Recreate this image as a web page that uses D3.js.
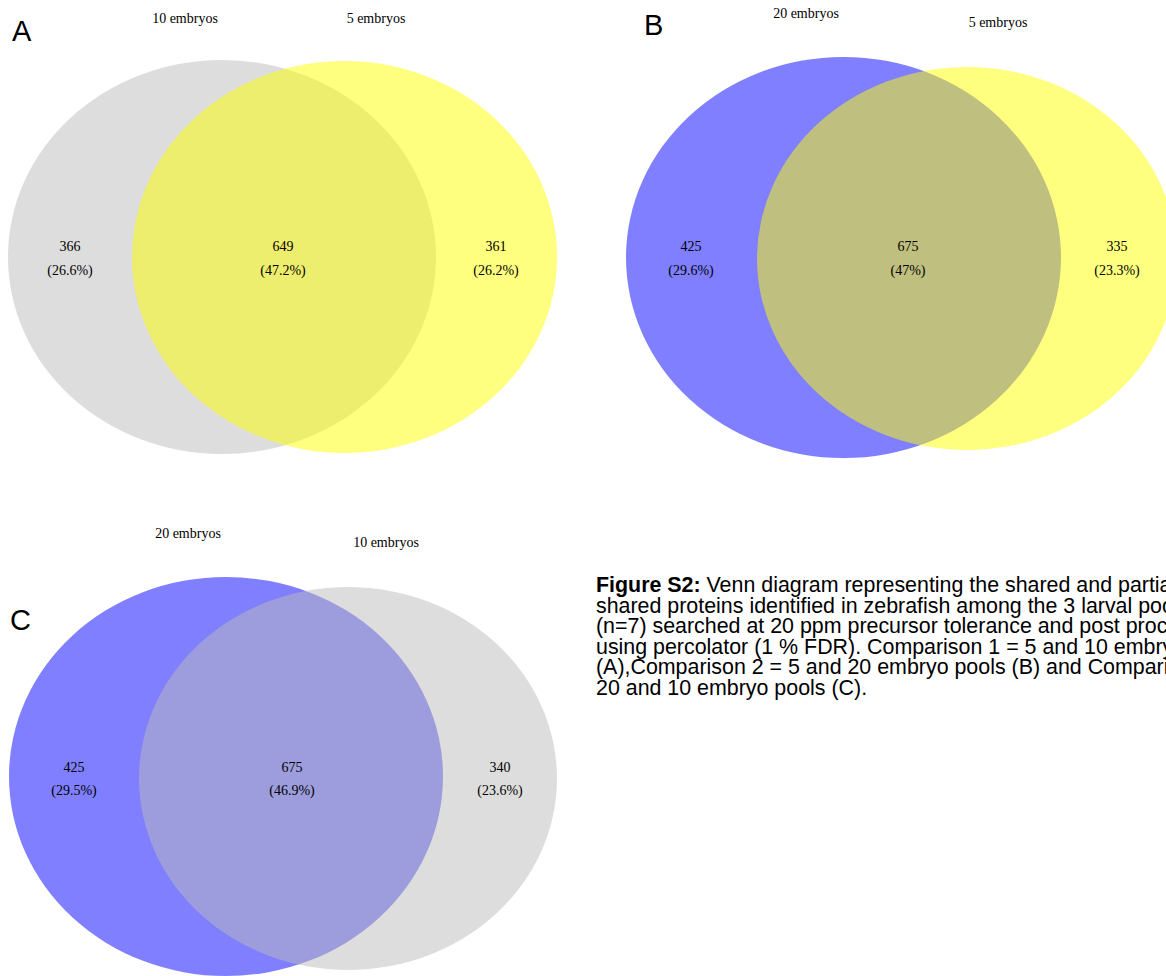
<!DOCTYPE html>
<html>
<head>
<meta charset="utf-8">
<script src="https://cdn.jsdelivr.net/npm/d3@7"></script>
<style>
  html, body { margin: 0; padding: 0; background: #fff; overflow: hidden; }
  svg { display: block; }
</style>
</head>
<body>
<script>
// ---- data ----
const panelLetters = ["A", "B", "C"];
const leftSetNames = ["10 embryos", "20 embryos", "20 embryos"];
const rightSetNames = ["5 embryos", "5 embryos", "10 embryos"];
const leftOnlyCounts = [366, 425, 425];
const sharedCounts = [649, 675, 675];
const rightOnlyCounts = [361, 335, 340];
const leftOnlyPct = ["26.6%", "29.6%", "29.5%"];
const sharedPct = ["47.2%", "47%", "46.9%"];
const rightOnlyPct = ["26.2%", "23.3%", "23.6%"];
const leftColors = ["#bbbbbb", "#0000ff", "#0000ff"];
const rightColors = ["#ffff00", "#ffff00", "#bbbbbb"];
const captionBold = "Figure S2:";
const captionLines = [
  " Venn diagram representing the shared and partially",
  "shared proteins identified in zebrafish among the 3 larval pools",
  "(n=7) searched at 20 ppm precursor tolerance and post processing",
  "using percolator (1 % FDR). Comparison 1 = 5 and 10 embryo pools",
  "(A),Comparison 2 = 5 and 20 embryo pools (B) and Comparison 3 =",
  "20 and 10 embryo pools (C)."
];

// ---- layout (pixel geometry per panel) ----
const W = 1166, H = 976;
const layout = [
  { letter: [12, 41], lab: [[185, 23], [376, 23]],
    L: { cx: 222, cy: 257, rx: 214, ry: 197 }, R: { cx: 344.5, cy: 257, rx: 212.5, ry: 196 },
    txt: [70, 283, 496], numY: 251, pctY: 275 },
  { letter: [644, 35], lab: [[806, 18], [998, 27]],
    L: { cx: 843.5, cy: 257.5, rx: 217.5, ry: 200.5 }, R: { cx: 967, cy: 258.5, rx: 210, ry: 191.5 },
    txt: [691, 908, 1117], numY: 251, pctY: 275 },
  { letter: [10, 630], lab: [[188, 538], [386, 547]],
    L: { cx: 226, cy: 776.5, rx: 217, ry: 199.5 }, R: { cx: 348, cy: 778.5, rx: 209, ry: 191.5 },
    txt: [74, 292, 500], numY: 772, pctY: 795 }
];

const svg = d3.select("body").append("svg")
  .attr("width", W).attr("height", H)
  .attr("viewBox", `0 0 ${W} ${H}`);

svg.append("rect").attr("width", W).attr("height", H).attr("fill", "#fff");

const serif = "'Liberation Serif', 'Times New Roman', serif";
const sans = "'Liberation Sans', Arial, sans-serif";

panelLetters.forEach((letter, i) => {
  const lay = layout[i];
  const g = svg.append("g").attr("class", "panel");

  const sets = [
    { e: lay.L, color: leftColors[i] },
    { e: lay.R, color: rightColors[i] }
  ];
  sets.forEach(s => {
    const x = d3.scaleLinear().domain([-1, 1]).range([s.e.cx - s.e.rx, s.e.cx + s.e.rx]);
    const y = d3.scaleLinear().domain([-1, 1]).range([s.e.cy - s.e.ry, s.e.cy + s.e.ry]);
    g.append("ellipse")
      .attr("cx", x(0)).attr("cy", y(0))
      .attr("rx", x(1) - x(0)).attr("ry", y(1) - y(0))
      .attr("fill", s.color).attr("fill-opacity", 0.5);
  });

  [leftSetNames[i], rightSetNames[i]].forEach((name, k) => {
    g.append("text")
      .attr("x", lay.lab[k][0]).attr("y", lay.lab[k][1])
      .attr("text-anchor", "middle")
      .attr("font-family", serif).attr("font-size", 14).attr("fill", "#000")
      .text(name);
  });

  const counts = [leftOnlyCounts[i], sharedCounts[i], rightOnlyCounts[i]];
  const pcts = [leftOnlyPct[i], sharedPct[i], rightOnlyPct[i]];
  counts.forEach((c, k) => {
    g.append("text")
      .attr("x", lay.txt[k]).attr("y", lay.numY)
      .attr("text-anchor", "middle")
      .attr("font-family", serif).attr("font-size", 14).attr("fill", "#000")
      .text(c);
    g.append("text")
      .attr("x", lay.txt[k]).attr("y", lay.pctY)
      .attr("text-anchor", "middle")
      .attr("font-family", serif).attr("font-size", 14).attr("fill", "#000")
      .text("(" + pcts[k] + ")");
  });

  g.append("text")
    .attr("x", lay.letter[0]).attr("y", lay.letter[1])
    .attr("font-family", sans).attr("font-size", 29).attr("fill", "#000")
    .text(letter);
});

// caption (the reference figure crops it at the right page edge)
const cap = svg.append("text")
  .attr("font-family", sans).attr("font-size", 21.4).attr("fill", "#000");
captionLines.forEach((line, k) => {
  const t = cap.append("tspan").attr("x", 596).attr("y", 592 + k * 20.6);
  if (k === 0) {
    t.append("tspan").attr("font-weight", "bold").text(captionBold);
    t.append("tspan").text(line);
  } else {
    t.text(line);
  }
});
</script>
</body>
</html>
